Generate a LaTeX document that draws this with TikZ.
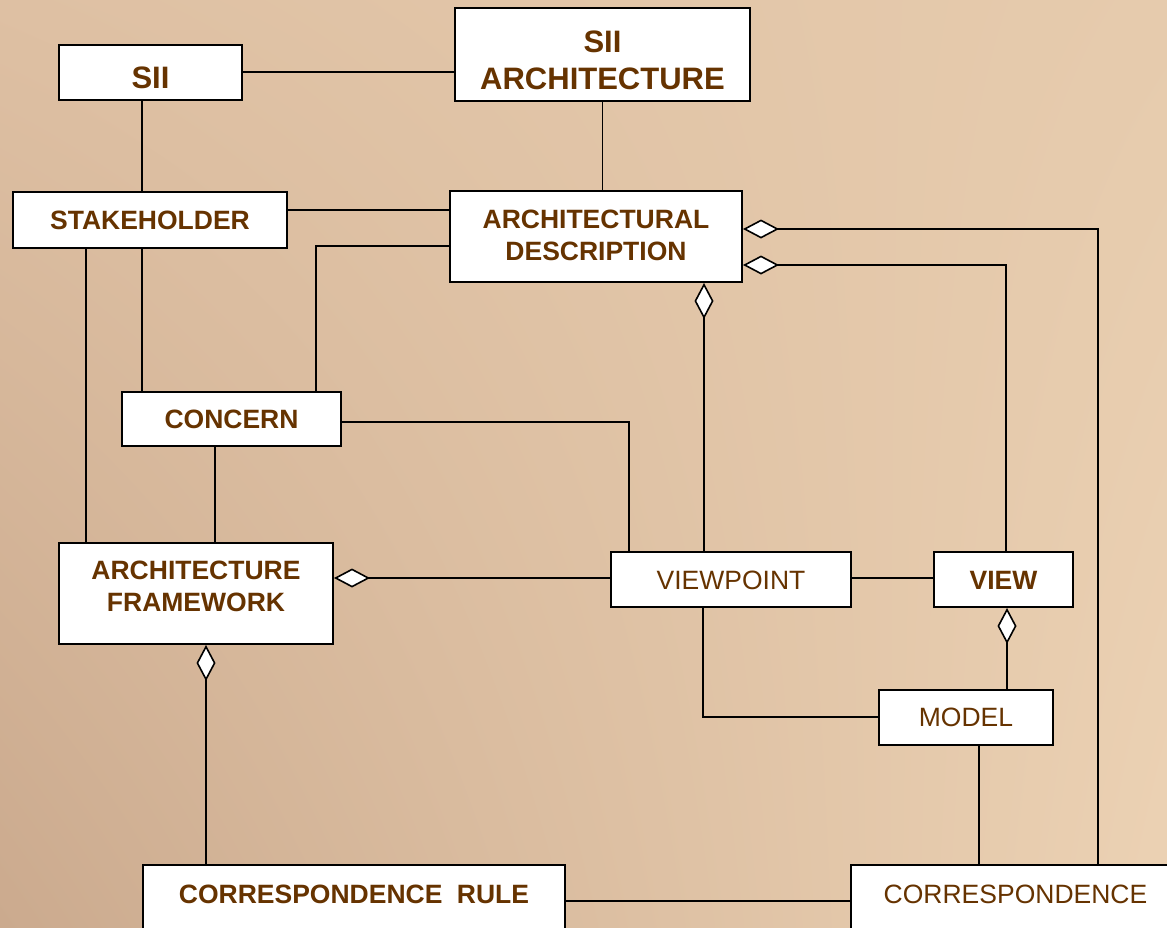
\documentclass[tikz,border=0pt]{standalone}
\usepackage{fontspec}
\setmainfont{Liberation Sans}
\usetikzlibrary{arrows.meta,shadings}
\definecolor{txt}{RGB}{102,51,0}
\definecolor{bgUL}{RGB}{222,192,163}
\definecolor{bgUR}{RGB}{230,203,173}
\definecolor{bgLL}{RGB}{203,170,142}
\definecolor{bgLR}{RGB}{236,210,180}
\tikzset{
  box/.style={draw=black, line width=2pt, fill=white, inner sep=0pt, anchor=north west,
    text=txt, font=\fontsize{26.5}{32}\selectfont\bfseries},
  plainbox/.style={box, font=\fontsize{26.5}{32}\selectfont},
  bigbox/.style={box, font=\fontsize{31}{37}\selectfont\bfseries},
  conn/.style={draw=black, line width=1.6pt},
  agg/.style={conn, {Diamond[length=36pt, width=19pt, fill=white, line width=1.6pt]}-}
}
\newcommand{\twol}[2]{\begin{tabular}[b]{@{}c@{}}#1\\#2\end{tabular}}
\begin{document}
\begin{tikzpicture}[x=1pt, y=-1pt]
\useasboundingbox (0,0) rectangle (1167,927);
\shade[upper left=bgUL, upper right=bgUR, lower left=bgLL, lower right=bgLR] (0,0) rectangle (1167,927);

% boxes
\node[bigbox, minimum width=183pt, text height=43pt, text depth=12pt] (sii) at (58,44) {SII};
\node[bigbox, minimum width=295pt, text height=81pt, text depth=12pt] (siia) at (454,7)
  {\begin{tabular}[b]{@{}c@{}}SII\\ARCHITECTURE\end{tabular}};
\node[box, minimum width=274pt, text height=37pt, text depth=19pt] (stake) at (12,191) {STAKEHOLDER};
\node[box, minimum width=292pt, text height=69pt, text depth=22pt] (ad) at (449,190)
  {\twol{ARCHITECTURAL}{DESCRIPTION}};
\node[box, minimum width=219pt, text height=36pt, text depth=18pt] (concern) at (121,391) {CONCERN};
\node[box, minimum width=274pt, text height=68pt, text depth=33pt] (af) at (58,542)
  {\twol{ARCHITECTURE}{FRAMEWORK}};
\node[plainbox, minimum width=240pt, text height=37pt, text depth=18pt] (vp) at (610,551) {VIEWPOINT};
\node[box, minimum width=139pt, text height=37pt, text depth=18pt] (view) at (933,551) {VIEW};
\node[plainbox, minimum width=174pt, text height=36pt, text depth=19pt] (model) at (878,689) {MODEL};
\node[box, minimum width=422pt, text height=38pt, text depth=58pt] (cr) at (142,864)
  {CORRESPONDENCE\hspace{14.5pt}RULE};
\node[plainbox, minimum width=329pt, text height=38pt, text depth=58pt] (corr) at (850,864) {CORRESPONDENCE};

% connectors
\draw[conn] (sii.east |- 0,72) -- (siia.west |- 0,72);
\draw[conn] (142,0 |- sii.south) -- (142,0 |- stake.north);
\draw[conn] (siia.south) -- (siia.south |- ad.north);
\draw[conn] (stake.east |- 0,210) -- (ad.west |- 0,210);
\draw[conn] (ad.west |- 0,246) -| (316,0 |- concern.north);
\draw[conn] (142,0 |- stake.south) -- (142,0 |- concern.north);
\draw[conn] (86,0 |- stake.south) -- (86,0 |- af.north);
\draw[conn] (215,0 |- concern.south) -- (215,0 |- af.north);
\draw[conn] (concern.east |- 0,422) -| (629,0 |- vp.north);
\draw[agg] (704,0 |- ad.south) -- (704,0 |- vp.north);
\draw[agg] (ad.east |- 0,229) -| (1098,0 |- corr.north);
\draw[agg] (ad.east |- 0,265) -| (1006,0 |- view.north);
\draw[agg] (af.east |- 0,578) -- (vp.west |- 0,578);
\draw[conn] (vp.east |- 0,578) -- (view.west |- 0,578);
\draw[agg] (1007,0 |- view.south) -- (1007,0 |- model.north);
\draw[conn] (703,0 |- vp.south) |- (model.west |- 0,717);
\draw[conn] (979,0 |- model.south) -- (979,0 |- corr.north);
\draw[agg] (206,0 |- af.south) -- (206,0 |- cr.north);
\draw[conn] (cr.east |- 0,901) -- (corr.west |- 0,901);
\end{tikzpicture}
\end{document}
